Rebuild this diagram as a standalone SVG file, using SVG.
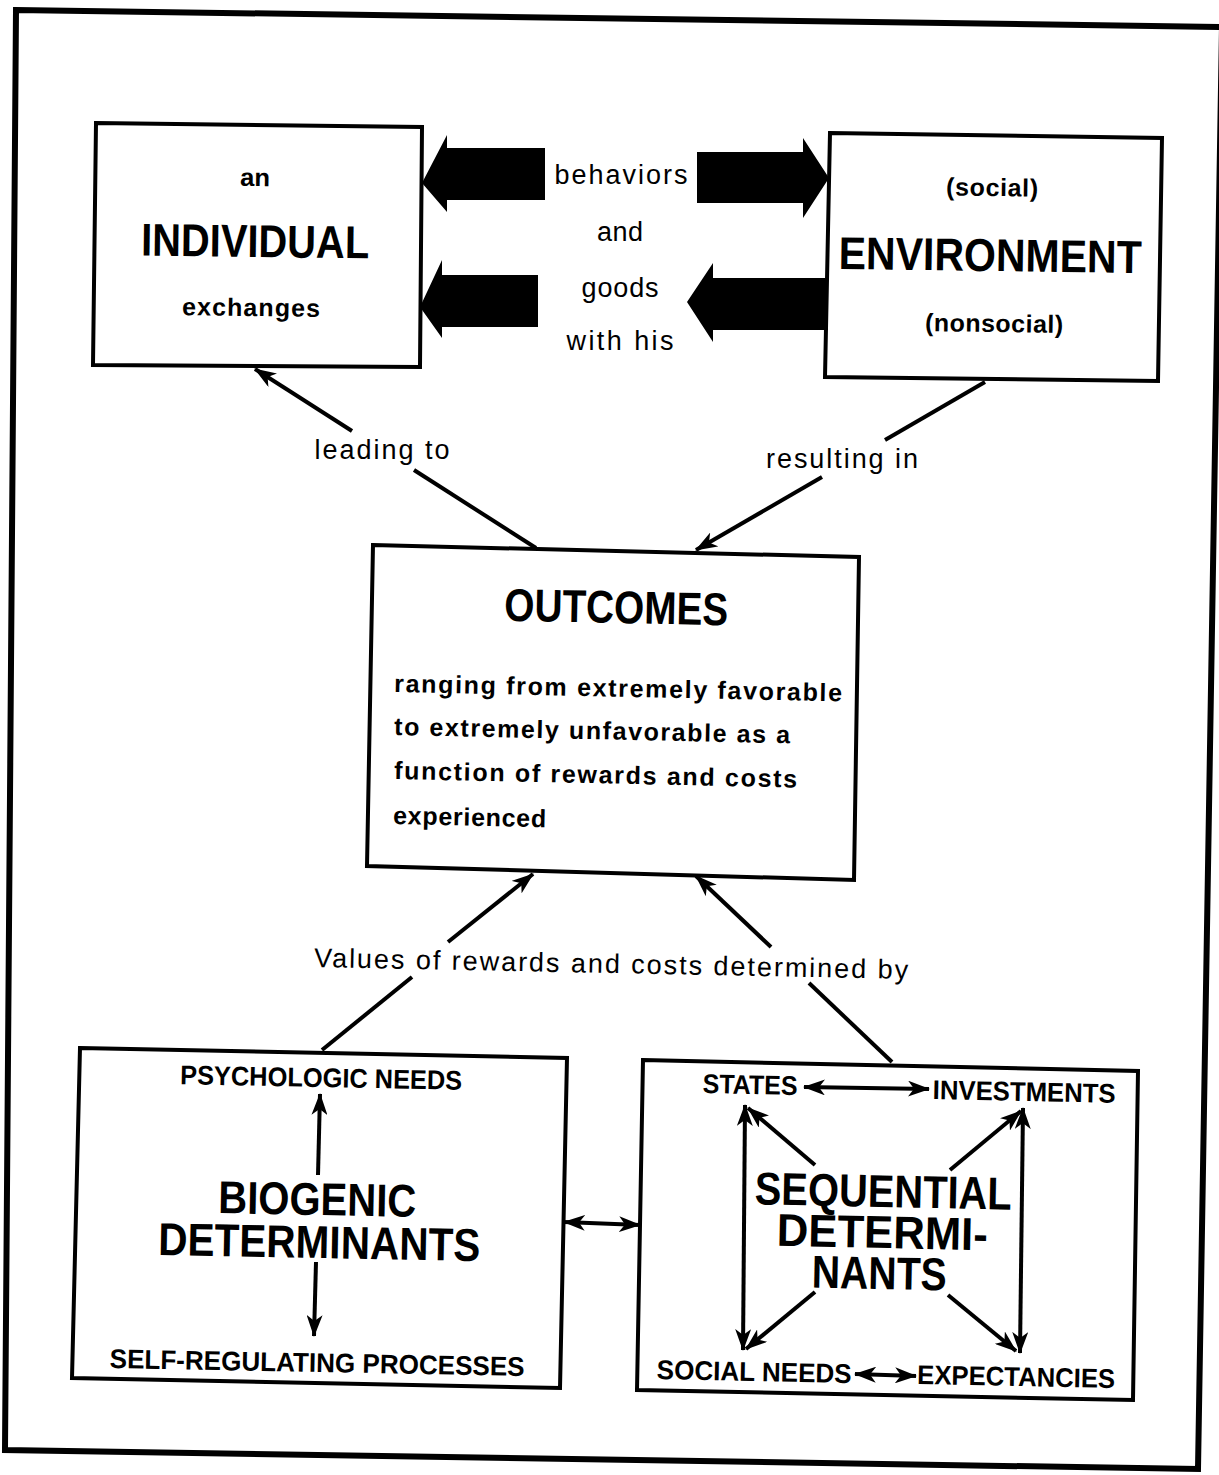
<svg xmlns="http://www.w3.org/2000/svg" width="1219" height="1475" viewBox="0 0 1219 1475">
<style>
.box{fill:#fff;stroke:#000;stroke-width:4;stroke-linejoin:miter}
.ln{fill:none;stroke:#000;stroke-width:4}
.blk{fill:#000}
.reg{font-family:"Liberation Sans",Arial,sans-serif;font-size:27px;fill:#000}
.bsm{font-family:"Liberation Sans",Arial,sans-serif;font-weight:bold;font-size:25px;fill:#000}
.bcap{font-family:"Liberation Sans Narrow","Liberation Sans",Arial,sans-serif;font-weight:bold;font-size:27px;fill:#000}
.big{font-family:"Liberation Sans Narrow","Liberation Sans",Arial,sans-serif;font-weight:bold;font-size:46px;fill:#000}
.mid{text-anchor:middle}
</style>
<defs>
<marker id="ah" markerUnits="userSpaceOnUse" markerWidth="22" markerHeight="16" viewBox="0 0 22 16" refX="21" refY="8" orient="auto-start-reverse">
<path d="M0,0 L22,8 L0,16 L6,8 Z" fill="#000"/>
</marker>
</defs>
<rect width="1219" height="1475" fill="#fff"/>
<path d="M16,10 L1222,27 L1198,1469 L5,1450 Z" fill="none" stroke="#000" stroke-width="6"/>

<g id="individual">
<polygon class="box" points="96,123 422,127 420,367 93,365"/>
<text class="bsm mid" x="255" y="186" textLength="30" lengthAdjust="spacingAndGlyphs" transform="rotate(0.7 255 186)">an</text>
<text class="big mid" x="255" y="257" textLength="228" lengthAdjust="spacingAndGlyphs" transform="rotate(0.7 255 257)">INDIVIDUAL</text>
<text class="bsm mid" x="251" y="316" textLength="138" transform="rotate(0.7 251 316)">exchanges</text>
</g>

<g id="environment">
<polygon class="box" points="830,133 1162,138 1158,381 825,377"/>
<text class="bsm mid" x="992" y="196" textLength="92" transform="rotate(0.8 992 196)">(social)</text>
<text class="big mid" x="990" y="271" textLength="303" lengthAdjust="spacingAndGlyphs" transform="rotate(0.8 990 271)">ENVIRONMENT</text>
<text class="bsm mid" x="994" y="332" textLength="138" transform="rotate(0.8 994 332)">(nonsocial)</text>
</g>

<g id="exchange-arrows">
<polygon class="blk" points="422,183 447,135 447,148 545,148 545,200 447,200 447,212"/>
<polygon class="blk" points="697,152 803,152 803,138 829,178 803,218 803,203 697,203"/>
<polygon class="blk" points="420,307 442,260 442,275 538,275 538,327 442,327 442,338"/>
<polygon class="blk" points="687,302 713,263 713,278 828,278 828,330 713,330 713,342"/>
<text class="reg mid" x="621" y="184" textLength="133">behaviors</text>
<text class="reg mid" x="620" y="241" textLength="46">and</text>
<text class="reg mid" x="620" y="297" textLength="77">goods</text>
<text class="reg mid" x="620" y="350" textLength="107">with his</text>
</g>

<g id="outcomes">
<polygon class="box" points="373,545 859,557 854,880 367,866"/>
<text class="big mid" x="616" y="623" textLength="224" lengthAdjust="spacingAndGlyphs" transform="rotate(1.2 616 623)">OUTCOMES</text>
<text class="bsm" x="394" y="692" textLength="448" transform="rotate(1.2 394 692)">ranging from extremely favorable</text>
<text class="bsm" x="394" y="735" textLength="396" transform="rotate(1.2 394 735)">to extremely unfavorable as a</text>
<text class="bsm" x="394" y="779" textLength="403" transform="rotate(1.2 394 779)">function of rewards and costs</text>
<text class="bsm" x="393" y="824" textLength="153" transform="rotate(1.2 393 824)">experienced</text>
</g>

<g id="biogenic">
<polygon class="box" points="80,1048 567,1058 560,1388 72,1378"/>
<text class="bcap mid" x="321" y="1087" textLength="282" lengthAdjust="spacingAndGlyphs" transform="rotate(1.1 321 1087)">PSYCHOLOGIC NEEDS</text>
<text class="big mid" x="317" y="1215" textLength="198" lengthAdjust="spacingAndGlyphs" transform="rotate(1.1 317 1215)">BIOGENIC</text>
<text class="big mid" x="319" y="1258" textLength="322" lengthAdjust="spacingAndGlyphs" transform="rotate(1.1 319 1258)">DETERMINANTS</text>
<text class="bcap mid" x="317" y="1372" textLength="415" lengthAdjust="spacingAndGlyphs" transform="rotate(1.1 317 1372)">SELF-REGULATING PROCESSES</text>
<line class="ln" x1="318" y1="1175" x2="320" y2="1094" marker-end="url(#ah)"/>
<line class="ln" x1="316" y1="1262" x2="314" y2="1336" marker-end="url(#ah)"/>
</g>

<g id="sequential">
<polygon class="box" points="643,1060 1138,1071 1133,1400 637,1390"/>
<text class="bcap mid" x="750" y="1094" textLength="95" lengthAdjust="spacingAndGlyphs" transform="rotate(1.2 750 1094)">STATES</text>
<text class="bcap mid" x="1024" y="1101" textLength="183" lengthAdjust="spacingAndGlyphs" transform="rotate(1.2 1024 1101)">INVESTMENTS</text>
<text class="big mid" x="883" y="1207" textLength="257" lengthAdjust="spacingAndGlyphs" transform="rotate(1.2 883 1207)">SEQUENTIAL</text>
<text class="big mid" x="882" y="1248" textLength="211" lengthAdjust="spacingAndGlyphs" transform="rotate(1.2 882 1248)">DETERMI-</text>
<text class="big mid" x="879" y="1289" textLength="135" lengthAdjust="spacingAndGlyphs" transform="rotate(1.2 879 1289)">NANTS</text>
<text class="bcap mid" x="754" y="1381" textLength="195" lengthAdjust="spacingAndGlyphs" transform="rotate(1.2 754 1381)">SOCIAL NEEDS</text>
<text class="bcap mid" x="1016" y="1386" textLength="198" lengthAdjust="spacingAndGlyphs" transform="rotate(1.2 1016 1386)">EXPECTANCIES</text>
<line class="ln" x1="745" y1="1105" x2="743" y2="1350" marker-start="url(#ah)" marker-end="url(#ah)"/>
<line class="ln" x1="1023" y1="1108" x2="1020" y2="1353" marker-start="url(#ah)" marker-end="url(#ah)"/>
<line class="ln" x1="815" y1="1165" x2="748" y2="1108" marker-end="url(#ah)"/>
<line class="ln" x1="950" y1="1170" x2="1021" y2="1111" marker-end="url(#ah)"/>
<line class="ln" x1="815" y1="1292" x2="746" y2="1349" marker-end="url(#ah)"/>
<line class="ln" x1="948" y1="1295" x2="1016" y2="1351" marker-end="url(#ah)"/>
<line class="ln" x1="804" y1="1087" x2="929" y2="1089" marker-start="url(#ah)" marker-end="url(#ah)"/>
<line class="ln" x1="855" y1="1374" x2="916" y2="1376" marker-start="url(#ah)" marker-end="url(#ah)"/>
</g>

<g id="connectors">
<line class="ln" x1="536" y1="548" x2="414" y2="470"/>
<line class="ln" x1="352" y1="431" x2="255" y2="369" marker-end="url(#ah)"/>
<line class="ln" x1="985" y1="382" x2="885" y2="440"/>
<line class="ln" x1="822" y1="477" x2="696" y2="550" marker-end="url(#ah)"/>
<line class="ln" x1="322" y1="1050" x2="412" y2="977"/>
<line class="ln" x1="448" y1="942" x2="533" y2="874" marker-end="url(#ah)"/>
<line class="ln" x1="892" y1="1062" x2="809" y2="983"/>
<line class="ln" x1="771" y1="947" x2="696" y2="876" marker-end="url(#ah)"/>
<line class="ln" x1="564" y1="1222" x2="640" y2="1225" marker-start="url(#ah)" marker-end="url(#ah)"/>
<text class="reg mid" x="382" y="459" textLength="135">leading to</text>
<text class="reg mid" x="842" y="468" textLength="152">resulting in</text>
<text class="reg" x="314" y="967" textLength="594" transform="rotate(1.15 314 967)">Values of rewards and costs determined by</text>
</g>
</svg>
